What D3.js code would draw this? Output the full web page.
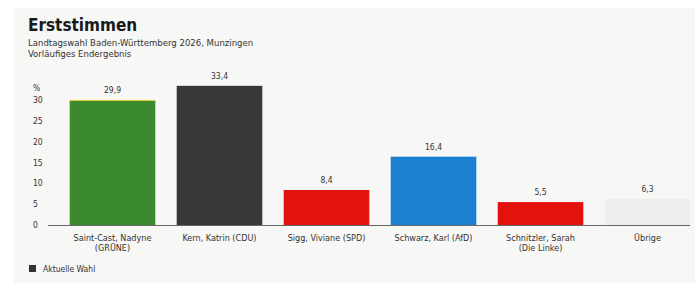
<!DOCTYPE html>
<html>
<head>
<meta charset="utf-8">
<script src="https://cdn.jsdelivr.net/npm/d3@7"></script>
<style>
  body { margin: 0; background: #fff; }
  svg { display: block; font-family: "DejaVu Sans Condensed", "Liberation Sans Narrow", sans-serif; }
</style>
</head>
<body>
<div id="chart"></div>
<script>
var width = 695, height = 283;

// data
var candidates = [["Saint-Cast, Nadyne", "(GRÜNE)"], ["Kern, Katrin (CDU)"], ["Sigg, Viviane (SPD)"],
  ["Schwarz, Karl (AfD)"], ["Schnitzler, Sarah", "(Die Linke)"], ["Übrige"]];
var votes = [29.9, 33.4, 8.4, 16.4, 5.5, 6.3];
var colors = ["#3b8a2f", "#3a3836", "#e3120f", "#1c7fcf", "#e3120f", "#efefef"];
var yTicks = [0, 5, 10, 15, 20, 25, 30];

var svg = d3.select("#chart").append("svg").attr("width", width).attr("height", height);
svg.append("rect").attr("x", 14).attr("y", 8).attr("width", width - 14).attr("height", height - 8).attr("fill", "#f7f7f6");

svg.append("text").attr("x", 28).attr("y", 31).attr("font-size", 17).attr("font-weight", "bold").attr("fill", "#1a1a1a").text("Erststimmen");
svg.append("text").attr("x", 28).attr("y", 46).attr("font-size", 9.5).attr("fill", "#333").text("Landtagswahl Baden-Württemberg 2026, Munzingen");
svg.append("text").attr("x", 28).attr("y", 57).attr("font-size", 9.5).attr("fill", "#333").text("Vorläufiges Endergebnis");

var x = d3.scaleBand().domain(d3.range(votes.length)).range([59, 701]).paddingInner(0.2).paddingOuter(0.1);
var y = d3.scaleLinear().domain([0, 30]).range([225, 100]);

var g = svg.append("g");
g.selectAll(".tick").data(yTicks).enter().append("text")
  .attr("x", 33).attr("y", function(d){ return y(d) + 3; })
  .attr("font-size", 8.5).attr("fill", "#333").text(function(d){ return d; });
g.append("text").attr("x", 33).attr("y", 91).attr("font-size", 8.5).attr("fill", "#333").text("%");

g.selectAll(".bar").data(votes).enter().append("rect")
  .attr("x", function(d, i){ return x(i); }).attr("width", x.bandwidth())
  .attr("y", function(d){ return y(d); }).attr("height", function(d){ return y(0) - y(d); })
  .attr("fill", function(d, i){ return colors[i]; });
g.append("line").attr("x1", x(0)).attr("x2", x(0) + x.bandwidth())
  .attr("y1", y(votes[0])).attr("y2", y(votes[0])).attr("stroke", "#e8d23a").attr("stroke-width", 1);

g.selectAll(".val").data(votes).enter().append("text")
  .attr("x", function(d, i){ return x(i) + x.bandwidth() / 2; }).attr("y", function(d){ return y(d) - 7; })
  .attr("text-anchor", "middle").attr("font-size", 8.5).attr("fill", "#333")
  .text(function(d){ return d3.format(".1f")(d).replace(".", ","); });

g.append("line").attr("x1", 48).attr("x2", 690).attr("y1", y(0) + 0.5).attr("y2", y(0) + 0.5).attr("stroke", "#666").attr("stroke-width", 1);

g.selectAll(".cat").data(candidates).enter().append("text")
  .attr("x", function(d, i){ return x(i) + x.bandwidth() / 2; }).attr("y", 241)
  .attr("text-anchor", "middle").attr("font-size", 9).attr("fill", "#333")
  .each(function(d){
    var t = d3.select(this);
    d.forEach(function(line, k){ t.append("tspan").attr("x", t.attr("x")).attr("dy", k ? 10 : 0).text(line); });
  });

svg.append("rect").attr("x", 29).attr("y", 265).attr("width", 7).attr("height", 7).attr("fill", "#333");
svg.append("text").attr("x", 43).attr("y", 272).attr("font-size", 8.5).attr("fill", "#333").text("Aktuelle Wahl");
</script>
</body>
</html>
